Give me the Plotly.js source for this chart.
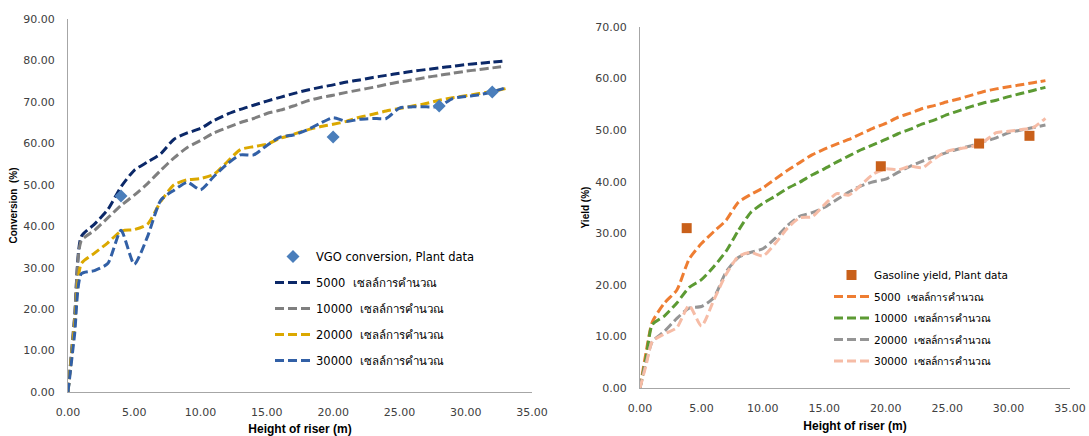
<!DOCTYPE html>
<html>
<head>
<meta charset="utf-8">
<script src="https://cdn.plot.ly/plotly-3.0.1.min.js"></script>
<style>html,body{margin:0;padding:0;background:#fff;}#chart{width:1089px;height:436px;}</style>
</head>
<body>
<div id="chart"></div>
<script>
// ---------- data ----------
const heightX = [0, 0.5, 1, 2, 3, 4, 5, 6, 7, 8, 9, 10, 11, 12, 13, 14, 15, 16, 17, 18, 19, 20, 21, 22, 23, 24, 25, 26, 27, 28, 29, 30, 31, 32, 33];

// Left chart: VGO conversion (%)
const conv5000  = [0, 18, 37.5, 40.5, 44, 49.5, 53.5, 55.5, 57.5, 61, 62.5, 63.6, 65.5, 67, 68.2, 69.2, 70.2, 71.1, 72, 72.8, 73.5, 74.1, 74.8, 75.3, 75.9, 76.4, 76.9, 77.4, 77.8, 78.2, 78.6, 79, 79.3, 79.6, 79.9];
const conv10000 = [0, 18, 36.5, 39, 42, 45, 47.5, 50.3, 53.5, 56.5, 59, 60.7, 62.5, 63.8, 65, 66, 67.2, 68, 69, 70.2, 71, 71.6, 72.3, 72.9, 73.5, 74.2, 74.8, 75.3, 75.9, 76.4, 76.9, 77.4, 77.8, 78.2, 78.6];
const conv20000 = [0, 16, 31, 33.5, 36, 38.8, 39.2, 40.5, 46, 50, 51.2, 51.5, 52.5, 55.5, 58.5, 59.2, 59.8, 61.2, 62.2, 63.2, 64, 64.6, 65.3, 66.3, 67, 67.8, 68.4, 69, 69.6, 70.4, 71, 71.5, 72, 72.5, 73.2];
const conv30000 = [0, 14, 28.5, 29.3, 31, 39, 30.8, 37.5, 46.3, 48.7, 50.6, 48.8, 52, 55, 57.2, 57.2, 59.5, 61.5, 62, 63.2, 64.8, 66.2, 65.3, 65.8, 66, 66, 68.5, 68.8, 68.8, 68.9, 70.8, 71.3, 71.7, 72.4, 73.4];
const plantConvX = [4, 20, 28, 32];
const plantConvY = [47.3, 61.5, 69.0, 72.4];

// Right chart: gasoline yield (%)
const yield5000  = [0, 7, 12.8, 16.5, 19, 25, 28, 30.3, 32.5, 36, 37.5, 38.8, 40.5, 42.2, 43.7, 45.2, 46.3, 47.3, 48.2, 49.3, 50.4, 51.3, 52.5, 53.3, 54.2, 54.8, 55.5, 56.1, 56.8, 57.5, 58, 58.4, 58.8, 59.2, 59.6];
const yield10000 = [0, 6, 12.3, 14, 16.5, 19.5, 21, 23.5, 26.5, 30.5, 34, 35.8, 37.2, 38.7, 39.9, 41.3, 42.5, 43.8, 45, 46.2, 47.2, 48.2, 49.3, 50.2, 51.2, 52, 53, 53.8, 54.6, 55.3, 55.8, 56.5, 57.1, 57.7, 58.3];
const yield20000 = [0, 5, 9, 11, 13.5, 15.5, 15.8, 17.5, 22.5, 25.3, 26.3, 27, 29, 31.5, 33.3, 34, 35, 36.5, 38, 39.2, 40, 40.5, 41.8, 43, 44, 44.9, 45.7, 46.4, 47, 47.8, 48.5, 49.5, 50, 50.5, 51];
const yield30000 = [0, 4.5, 9, 10.5, 11.7, 16, 12, 17, 22, 25.5, 26.3, 25.6, 28, 31, 33, 33.2, 35.5, 37.7, 37.4, 39.4, 41.5, 42.5, 42.3, 43, 42.7, 44.5, 45.9, 46.4, 46.8, 47.8, 49.5, 49.8, 50.1, 50.5, 52.3];
const plantYieldX = [3.8, 19.6, 27.6, 31.7];
const plantYieldY = [31.0, 43.0, 47.4, 48.9];

const cellsLabel = "เซลล์การคำนวณ";
const gridSizes = ["5000", "10000", "20000", "30000"];

// ---------- styles ----------
const dashPat = "9px,4px";
const lineW = 3;
const leftColors = ["#0b2868", "#7f7f7f", "#dba800", "#3260a6"];
const rightColors = ["#ee7d32", "#5c9a33", "#959595", "#f6bca6"];
const convSeries = [conv5000, conv10000, conv20000, conv30000];
const yieldSeries = [yield5000, yield10000, yield20000, yield30000];

const traces = [];
convSeries.forEach((ys, i) => {
  traces.push({
    x: heightX, y: ys, type: "scatter", mode: "lines",
    name: gridSizes[i] + "  " + cellsLabel,
    line: {color: leftColors[i], width: lineW, dash: dashPat, shape: "spline", smoothing: 0.6},
    xaxis: "x", yaxis: "y", legend: "legend", legendgroup: "L" + i, legendrank: 2 + i
  });
});
traces.push({
  x: plantConvX, y: plantConvY, type: "scatter", mode: "markers",
  name: "VGO conversion, Plant data",
  marker: {symbol: "diamond", size: 10, color: "#4a7ebb"},
  xaxis: "x", yaxis: "y", legend: "legend", legendgroup: "Lp", legendrank: 1
});
yieldSeries.forEach((ys, i) => {
  traces.push({
    x: heightX, y: ys, type: "scatter", mode: "lines",
    name: gridSizes[i] + "  " + cellsLabel,
    line: {color: rightColors[i], width: lineW, dash: dashPat, shape: "spline", smoothing: 0.6},
    xaxis: "x2", yaxis: "y2", legend: "legend2", legendgroup: "R" + i, legendrank: 2 + i
  });
});
traces.push({
  x: plantYieldX, y: plantYieldY, type: "scatter", mode: "markers",
  name: "Gasoline yield, Plant data",
  marker: {symbol: "square", size: 10, color: "#c9601a"},
  xaxis: "x2", yaxis: "y2", legend: "legend2", legendgroup: "Rp", legendrank: 1
});

const tickFont = {family: "DejaVu Sans, Verdana, sans-serif", size: 11, color: "#404040"};
const titleFont = {family: "Liberation Sans, Arial, sans-serif", size: 12, color: "#000"};
const axisCommon = {
  showgrid: false, zeroline: false, showline: true, linecolor: "#a6a6a6", linewidth: 1,
  ticks: "", tickfont: tickFont, tickformat: ".2f", ticklabelstandoff: 10, automargin: false
};

const W = 1089, H = 436;
const layout = {
  width: W, height: H,
  margin: {l: 0, r: 0, t: 0, b: 0},
  paper_bgcolor: "#ffffff", plot_bgcolor: "#ffffff",
  showlegend: true,
  xaxis: Object.assign({}, axisCommon, {
    domain: [68 / W, 532 / W], range: [0, 35], dtick: 5, tick0: 0, anchor: "y",
    title: {text: "<b>Height of riser (m)</b>", font: titleFont, standoff: 7}
  }),
  yaxis: Object.assign({}, axisCommon, {
    domain: [44 / H, 417 / H], range: [0, 90], dtick: 10, tick0: 0, anchor: "x",
    title: {text: "<b>Conversion  (%)</b>", font: {family: titleFont.family, size: 10, color: "#000"}, standoff: 3}
  }),
  xaxis2: Object.assign({}, axisCommon, {
    domain: [640 / W, 1070 / W], range: [0, 35], dtick: 5, tick0: 0, anchor: "y2",
    title: {text: "<b>Height of riser (m)</b>", font: titleFont, standoff: 7}
  }),
  yaxis2: Object.assign({}, axisCommon, {
    domain: [48 / H, 409 / H], range: [0, 70], dtick: 10, tick0: 0, anchor: "x2",
    title: {text: "<b>Yield (%)</b>", font: {family: titleFont.family, size: 10, color: "#000"}, standoff: 3}
  }),
  legend: {
    x: 270 / W, y: 1 - 242 / H, xanchor: "left", yanchor: "top",
    bgcolor: "rgba(0,0,0,0)", borderwidth: 0, itemwidth: 36,
    font: {family: "DejaVu Sans, Tahoma, sans-serif", size: 11.5, color: "#000"},
    traceorder: "grouped", tracegroupgap: 7
  },
  legend2: {
    x: 829 / W, y: 1 - 260.5 / H, xanchor: "left", yanchor: "top",
    bgcolor: "rgba(0,0,0,0)", borderwidth: 0, itemwidth: 35,
    font: {family: "DejaVu Sans, Tahoma, sans-serif", size: 10.5, color: "#000"},
    traceorder: "grouped", tracegroupgap: 2.5
  }
};

Plotly.newPlot("chart", traces, layout, {displayModeBar: false, staticPlot: true});
</script>
</body>
</html>
